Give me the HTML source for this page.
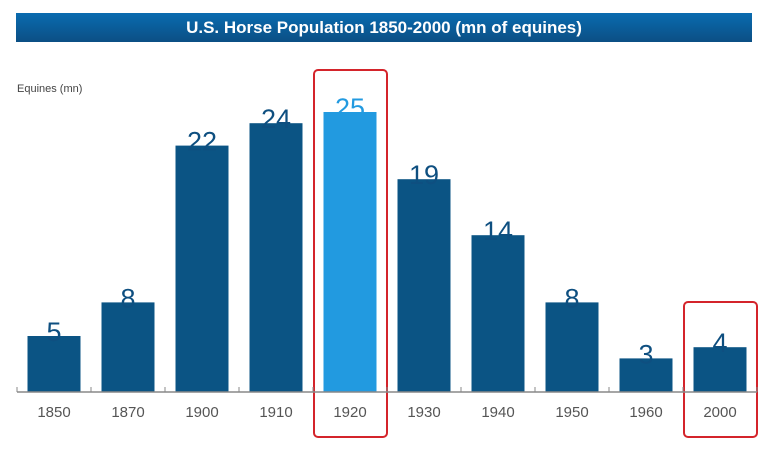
<!DOCTYPE html>
<html><head><meta charset="utf-8"><style>
body{margin:0;background:#fff;width:768px;height:453px;overflow:hidden;font-family:"Liberation Sans",sans-serif}
#title{position:absolute;left:16px;top:13px;width:736px;height:29px;background:linear-gradient(#0a6cb0,#0b4f84);color:#fff;font-weight:bold;font-size:17px;line-height:29px;text-align:center}
#ylab{position:absolute;left:17px;top:83px;font-size:11px;color:#444}
svg{position:absolute;left:0;top:0}
</style></head><body>
<div id="title">U.S. Horse Population 1850-2000 (mn of equines)</div>
<div id="ylab">Equines (mn)</div>
<svg id="chart" width="768" height="453"></svg>
<script>
const categories=["1850","1870","1900","1910","1920","1930","1940","1950","1960","2000"];
const values=[5,8,22,24,25,19,14,8,3,4];
const highlighted=["1920"];
const boxed=["1920","2000"];
const NS="http://www.w3.org/2000/svg";
const svg=document.getElementById('chart');
const x0=17, step=74, barW=53, baseY=392, unit=11.2;
const xPos=i=>x0+i*step+(step-barW)/2;
const yPos=v=>baseY-v*unit;
function mk(t,a,p){const e=document.createElementNS(NS,t);for(const k in a)e.setAttribute(k,a[k]);(p||svg).appendChild(e);return e;}
const horse="M2,14 C4,8 10,6 16,7 L34,6 C38,3 42,1 46,3 L52,10 L53,14 L50,14 L46,10 L44,14 L42,22 L41,40 L38,40 L37,26 L33,27 L33,40 L30,40 L28,28 L16,28 L14,40 L11,40 L10,28 L8,30 L7,40 L4,40 L4,28 C1,30 0,26 2,22 Z";
const defs=mk('defs',{});
categories.forEach((c,i)=>{
  const x=xPos(i), y=yPos(values[i]), hl=highlighted.includes(c);
  const cp=mk('clipPath',{id:'cp'+i},defs);
  mk('rect',{x:x,y:y,width:barW,height:baseY-y},cp);
  const bar=mk('rect',{x:x,y:y,width:barW,height:baseY-y,fill:hl?'#229ae0':'#0b5484'});
  
  
  const h=mk('path',{d:horse,transform:`translate(${x},${baseY-40})`,fill:hl?'#6cc6f5':'#2f86c2','clip-path':`url(#cp${i})`});
  
  
  const vt=mk('text',{x:x+barW/2,y:y+5,'text-anchor':'middle','font-size':27,fill:hl?'#229ae0':'#0e4f80'});
  vt.textContent=values[i];
  
  
  const lt=mk('text',{x:x+barW/2,y:417,'text-anchor':'middle','font-size':15,fill:'#555'});
  lt.textContent=c;
  
  
  if(boxed.includes(c)){
    const top=Math.min(y-42,baseY-90);
    const b=mk('rect',{x:x0+i*step+1,y:top,width:step-1,height:437-top,rx:4,fill:'none',stroke:'#d4242b','stroke-width':2});
    
    
  }
});
const ax=mk('line',{x1:x0,x2:x0+step*categories.length,y1:baseY,y2:baseY,stroke:'#888','stroke-width':1.5});


for(let i=0;i<=categories.length;i++){
  const t=mk('line',{x1:x0+i*step,x2:x0+i*step,y1:baseY-5,y2:baseY,stroke:'#888'});
  
  
}
</script>
</body></html>
